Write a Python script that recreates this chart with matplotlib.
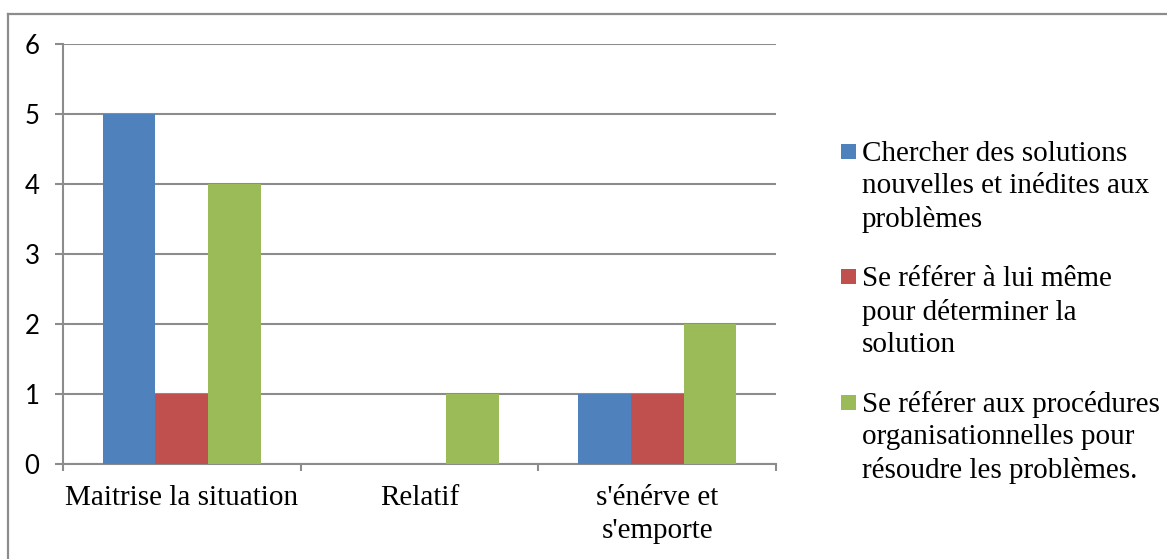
import matplotlib
matplotlib.use("Agg")
import matplotlib.pyplot as plt
from matplotlib.patches import Rectangle
from matplotlib.lines import Line2D
import numpy as np

# Categories and series
categories = ["Maitrise la situation", "Relatif", "s'énérve et\ns'emporte"]
series_names = [
    "Chercher des solutions\nnouvelles et inédites aux\nproblèmes",
    "Se référer à lui même\npour déterminer la\nsolution",
    "Se référer aux procédures\norganisationnelles pour\nrésoudre les problèmes.",
]
series_values = [
    [5, 0, 1],
    [1, 0, 1],
    [4, 1, 2],
]
series_colors = ["#4F81BD", "#C0504D", "#9BBB59"]
y_ticks = [0, 1, 2, 3, 4, 5, 6]

W, H = 1167, 559
fig = plt.figure(figsize=(W / 100, H / 100), dpi=100)
fig.patch.set_facecolor("white")

# Outer frame (top and left edges visible)
frame_col = "#8c8c8c"
fig.add_artist(Line2D([8 / W, 8 / W], [0, 1 - 14 / H], transform=fig.transFigure,
                      color=frame_col, lw=1.6))
fig.add_artist(Line2D([8 / W, 1], [1 - 14 / H, 1 - 14 / H], transform=fig.transFigure,
                      color=frame_col, lw=1.6))

left, right, top, bottom = 63, 776, 43.5, 464
ax = fig.add_axes([left / W, 1 - bottom / H, (right - left) / W, (bottom - top) / H])

x = np.arange(len(categories))
bw = 0.222
for i, (vals, col) in enumerate(zip(series_values, series_colors)):
    ax.bar(x + (i - 1) * bw, vals, width=bw, color=col, zorder=3, linewidth=0)

ax.set_xlim(-0.5, len(categories) - 0.5)
ax.set_ylim(0, 6)
ax.set_yticks(y_ticks)
ax.set_yticklabels([str(v) for v in y_ticks], fontfamily="Lato", fontsize=18.5)

grid_col = "#8c8c8c"
ax.yaxis.grid(True, color=grid_col, lw=1.5, zorder=0)
ax.set_axisbelow(True)
for s in ["top", "right"]:
    ax.spines[s].set_visible(False)
for s in ["left", "bottom"]:
    ax.spines[s].set_color(grid_col)
    ax.spines[s].set_linewidth(1.5)

ax.tick_params(axis="y", length=6, width=1.5, color=grid_col, pad=11)

# Category ticks on boundaries, labels at centres
ax.set_xticks(np.arange(len(categories) + 1) - 0.5)
ax.set_xticklabels([])
ax.tick_params(axis="x", which="major", length=5, width=1.5, color=grid_col)
ax.set_xticks(x, minor=True)
ax.set_xticklabels(categories, minor=True, fontfamily="Liberation Serif",
                   fontsize=21, linespacing=1.38)
ax.tick_params(axis="x", which="minor", length=0, pad=15)

# Legend on the right (text anchored at the baseline of its last line)
sq = 15
sq_tops = [144, 269, 395]
last_baselines = [227, 352, 478]
for name, col, yt, yb in zip(series_names, series_colors, sq_tops, last_baselines):
    fig.add_artist(Rectangle((841 / W, 1 - (yt + sq) / H), sq / W, sq / H,
                             transform=fig.transFigure, color=col, lw=0))
    fig.text(862 / W, 1 - yb / H, name, fontfamily="Liberation Serif",
             fontsize=21, va="baseline", ha="left", linespacing=1.32)

fig.savefig("out.png", dpi=100, facecolor="white")
